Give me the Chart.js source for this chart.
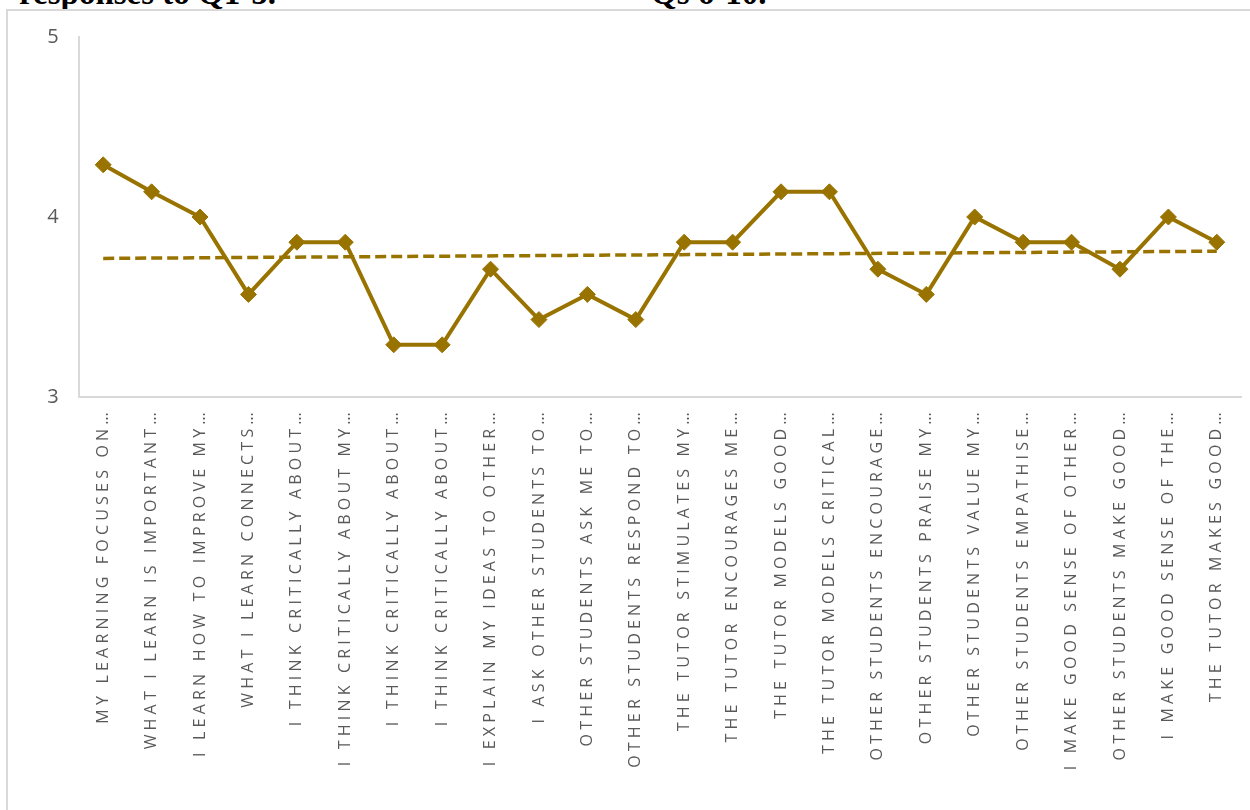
<!DOCTYPE html>
<html>
<head>
<meta charset="utf-8">
<script src="https://cdn.jsdelivr.net/npm/chart.js@4/dist/chart.umd.min.js"></script>
<style>
  html, body { margin: 0; padding: 0; background: #fff; overflow: hidden; }
  #page { position: relative; width: 1250px; height: 810px; overflow: hidden; }
  .caption {
    position: absolute; top: -23px;
    font: bold 33px/33px "Liberation Serif", "Times New Roman", serif;
    color: #000; white-space: nowrap;
  }
  #frame {
    position: absolute; left: 6px; top: 9px; width: 1260px; height: 820px;
    border: 2px solid #d9d9d9; box-sizing: border-box;
  }
  #wrap { position: absolute; left: 0; top: 0; width: 1250px; height: 810px; }
</style>
</head>
<body>
<div id="page">
  <div class="caption" style="left:19px;">responses to Q1-5.</div>
  <div class="caption" style="left:651px;">Qs 6-10.</div>
  <div id="frame"></div>
  <div id="wrap"><canvas id="chart"></canvas></div>
</div>
<script>
// ---- data ----------------------------------------------------------
const labels = [
  'MY LEARNING FOCUSES ON…',
  'WHAT I LEARN IS IMPORTANT…',
  'I LEARN HOW TO IMPROVE MY…',
  'WHAT I LEARN CONNECTS…',
  'I THINK CRITICALLY ABOUT…',
  'I THINK CRITICALLY ABOUT MY…',
  'I THINK CRITICALLY ABOUT…',
  'I THINK CRITICALLY ABOUT…',
  'I EXPLAIN MY IDEAS TO OTHER…',
  'I ASK OTHER STUDENTS TO…',
  'OTHER STUDENTS ASK ME TO…',
  'OTHER STUDENTS RESPOND TO…',
  'THE TUTOR STIMULATES MY…',
  'THE TUTOR ENCOURAGES ME…',
  'THE TUTOR MODELS GOOD…',
  'THE TUTOR MODELS CRITICAL…',
  'OTHER STUDENTS ENCOURAGE…',
  'OTHER STUDENTS PRAISE MY…',
  'OTHER STUDENTS VALUE MY…',
  'OTHER STUDENTS EMPATHISE…',
  'I MAKE GOOD SENSE OF OTHER…',
  'OTHER STUDENTS MAKE GOOD…',
  'I MAKE GOOD SENSE OF THE…',
  'THE TUTOR MAKES GOOD…'
];

const meanScores = [
  4.29, 4.14, 4.00, 3.57, 3.86, 3.86, 3.29, 3.29,
  3.71, 3.43, 3.57, 3.43, 3.86, 3.86, 4.14, 4.14,
  3.71, 3.57, 4.00, 3.86, 3.86, 3.71, 4.00, 3.86
];

const trendStart = 3.77;
const trendEnd   = 3.81;

const yTicks = [3, 4, 5];

// ---- styling -------------------------------------------------------
const GOLD = '#997300';
const LABEL_GREY = '#595959';
const AXIS_GREY = '#d9d9d9';
const LABEL_SPACING = '4.2px';

const trendData = labels.map((_, i) =>
  i === 0 ? trendStart : (i === labels.length - 1 ? trendEnd : null));

// canvas letter spacing for the spaced-out axis labels
const spacingPlugin = {
  id: 'labelSpacing',
  beforeLayout(chart) { chart.ctx.letterSpacing = LABEL_SPACING; },
  beforeDraw(chart)   { chart.ctx.letterSpacing = LABEL_SPACING; }
};

new Chart(document.getElementById('chart'), {
  type: 'line',
  data: {
    labels,
    datasets: [{
      label: 'Mean',
      data: meanScores,
      borderColor: GOLD,
      backgroundColor: GOLD,
      borderWidth: 4,
      pointStyle: 'rectRot',
      pointRadius: 8,
      pointBorderWidth: 1,
      pointBackgroundColor: GOLD,
      pointBorderColor: GOLD,
      tension: 0,
      order: 1
    }, {
      label: 'Linear (Mean)',
      data: trendData,
      spanGaps: true,
      borderColor: GOLD,
      borderWidth: 3.5,
      borderDash: [11, 5],
      pointRadius: 0,
      tension: 0,
      order: 2
    }]
  },
  options: {
    responsive: true,
    maintainAspectRatio: false,
    animation: false,
    layout: { padding: { top: 37, right: 2, left: 0, bottom: 0 } },
    plugins: {
      legend: { display: false },
      tooltip: { enabled: false }
    },
    scales: {
      x: {
        type: 'category',
        offset: true,
        grid: { display: false },
        border: { display: true, color: AXIS_GREY, width: 2 },
        ticks: {
          autoSkip: false,
          minRotation: 90,
          maxRotation: 90,
          padding: 3,
          color: LABEL_GREY,
          font: { family: '"Open Sans"', size: 16 }
        },
        afterFit(scale) { scale.height = 413; }
      },
      y: {
        min: 3,
        max: 5,
        grid: { display: false },
        border: { display: true, color: AXIS_GREY, width: 2 },
        afterBuildTicks(scale) { scale.ticks = yTicks.map(v => ({ value: v })); },
        ticks: {
          padding: 8,
          color: LABEL_GREY,
          font: { family: '"Open Sans"', size: 20 }
        },
        afterFit(scale) { scale.width = 79; }
      }
    }
  },
  plugins: [spacingPlugin]
});
</script>
</body>
</html>
